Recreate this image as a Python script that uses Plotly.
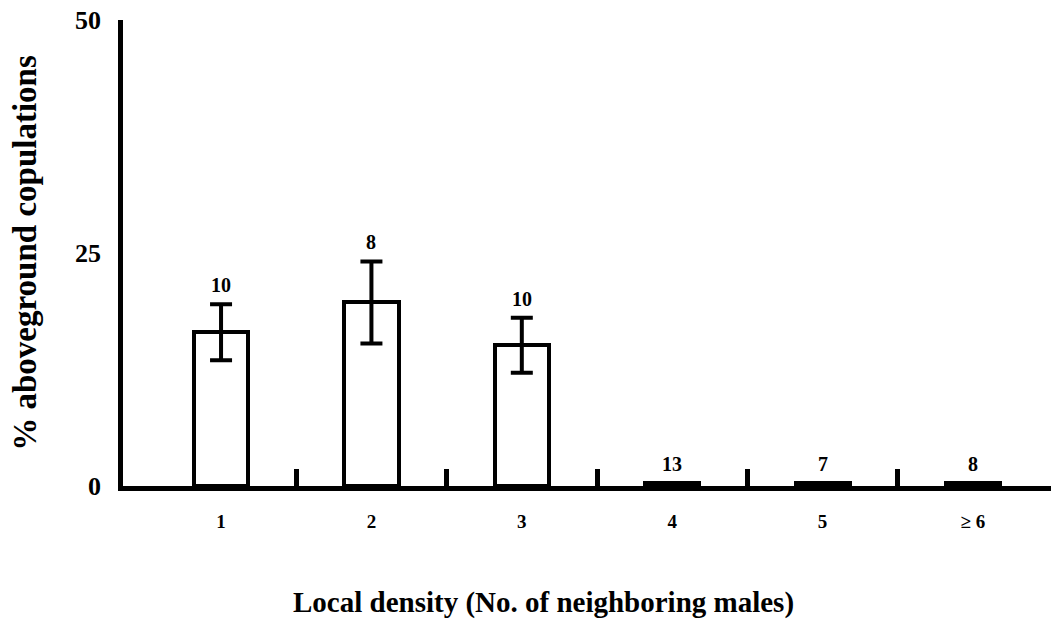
import plotly.graph_objects as go

# ---- data ----
categories = ["1", "2", "3", "4", "5", "≥ 6"]
pct_values = [16.5, 19.7, 15.1, 0.3, 0.3, 0.3]
pct_errors = [3.0, 4.4, 2.95, None, None, None]
sample_sizes = [10, 8, 10, 13, 7, 8]
y_ticks = [0, 25, 50]

FONT = "Liberation Serif, Times New Roman, serif"

x_pos = list(range(len(categories)))
between = [i + 0.5 for i in x_pos[:-1]]

fig = go.Figure()
fig.add_trace(go.Bar(
    x=x_pos, y=pct_values, width=0.36,
    marker=dict(color="white", line=dict(color="black", width=4)),
    error_y=dict(type="data", array=pct_errors, visible=True,
                 color="black", thickness=4, width=11),
    hoverinfo="skip", showlegend=False,
))

for xi, v, e, n in zip(x_pos, pct_values, pct_errors, sample_sizes):
    fig.add_annotation(
        x=xi, y=v + (e or 0), text=str(n), showarrow=False,
        yanchor="bottom", yshift=6,
        font=dict(family=FONT, size=20, color="black", weight="bold"),
    )

fig.add_annotation(
    xref="paper", yref="paper", x=0.4526, y=-0.251,
    xanchor="center", yanchor="middle", showarrow=False,
    text="Local density (No. of neighboring males)",
    font=dict(family=FONT, size=29, color="black", weight="bold"),
)

fig.update_layout(
    width=1051, height=627,
    margin=dict(l=123, r=0, t=20, b=141),
    paper_bgcolor="white", plot_bgcolor="white",
    bargap=0,
    xaxis=dict(
        type="linear", range=[-0.652, 5.519],
        tickmode="array", tickvals=x_pos, ticktext=categories,
        ticks="", showgrid=False, zeroline=False,
        showline=True, linewidth=5, linecolor="black",
        tickfont=dict(family=FONT, size=19, color="black", weight="bold"),
        ticklabelstandoff=14,
        minor=dict(tickmode="array", tickvals=between, ticks="inside",
                   ticklen=17, tickwidth=4.5, tickcolor="black", showgrid=False),
    ),
    yaxis=dict(
        range=[0, 50], tickmode="array", tickvals=y_ticks,
        ticks="", showgrid=False, zeroline=False,
        showline=True, linewidth=4.5, linecolor="black",
        tickfont=dict(family=FONT, size=26, color="black", weight="bold"),
        ticklabelstandoff=12,
        title=dict(text="% aboveground copulations", standoff=30,
                   font=dict(family=FONT, size=33, color="black", weight="bold")),
        automargin=False,
    ),
)

fig.write_html("out.html")
